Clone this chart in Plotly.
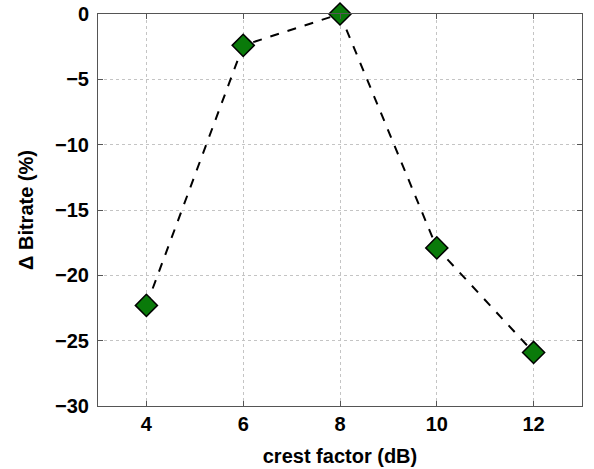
import plotly.graph_objects as go

crest_factor = [4, 6, 8, 10, 12]
delta_bitrate = [-22.3, -2.4, 0.0, -17.9, -25.9]
x_ticks = [4, 6, 8, 10, 12]
y_ticks = [0, -5, -10, -15, -20, -25, -30]

font = dict(family="Liberation Sans, Arial, sans-serif", size=20, color="black", weight="bold")

fig = go.Figure()
fig.add_trace(go.Scatter(
    x=crest_factor, y=delta_bitrate, mode="lines+markers",
    line=dict(color="black", width=2, dash="dash"),
    marker=dict(symbol="diamond", size=17, color="#0a7a0a", line=dict(color="black", width=1.5)),
    cliponaxis=False,
))

axis_common = dict(
    showline=True, linecolor="#555555", linewidth=1, mirror="ticks",
    ticks="inside", ticklen=5, tickcolor="#555555",
    showgrid=True, gridcolor="#c4c4c4", griddash="dot", gridwidth=1,
    zeroline=False, tickfont=font, automargin=False,
)

fig.update_layout(
    width=594, height=469,
    margin=dict(l=98, r=12, t=14, b=63),
    paper_bgcolor="white", plot_bgcolor="white",
    showlegend=False, hovermode=False,
    xaxis=dict(range=[3, 13], tickvals=x_ticks, ticklabelstandoff=0,
               title=dict(text="crest factor (dB)", font=font, standoff=14), **axis_common),
    yaxis=dict(range=[-30, 0], tickvals=y_ticks, ticklabelstandoff=4,
               title=dict(text="Δ Bitrate (%)", font=font, standoff=16), **axis_common),
)

fig.write_html("out.html", config={"displayModeBar": False},
               post_script="document.body.style.margin='0';")
